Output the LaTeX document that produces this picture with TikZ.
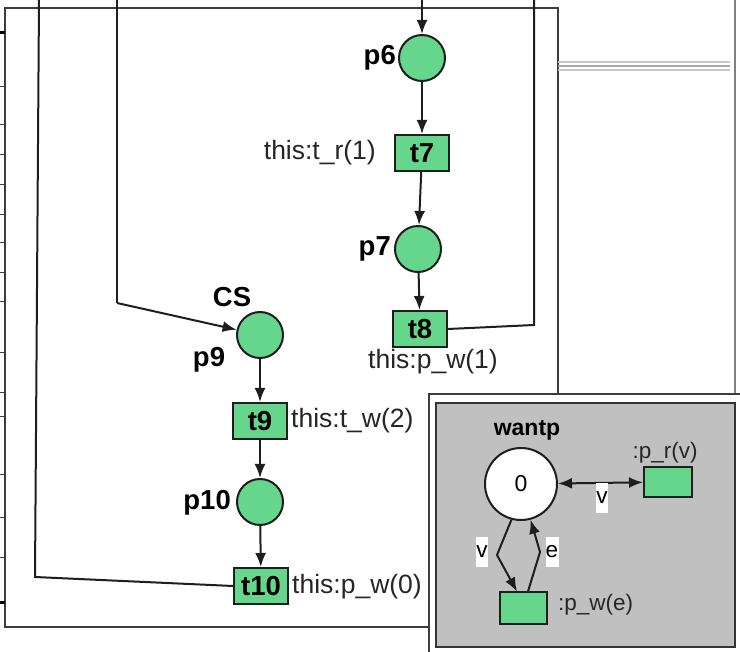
\documentclass[tikz,border=0pt]{standalone}
\usepackage{fontspec}
\setmainfont{Liberation Sans}
\usetikzlibrary{arrows.meta}
\definecolor{pgreen}{HTML}{66D68C}
\definecolor{edgec}{HTML}{1E1E1E}
\definecolor{framec}{HTML}{3C3C3C}
\definecolor{panelgray}{HTML}{C0C0C0}
\begin{document}
\begin{tikzpicture}[x=1pt,y=-1pt,
  place/.style={circle,draw=edgec,line width=2pt,fill=pgreen,minimum size=46pt,inner sep=0pt},
  trans/.style={rectangle,draw=edgec,line width=2pt,fill=pgreen,minimum width=54pt,minimum height=36pt,inner sep=0pt,font=\bfseries\fontsize{27.5}{30}\selectfont},
  ptrans/.style={rectangle,draw=edgec,line width=2pt,fill=pgreen,minimum width=48pt,minimum height=30pt,inner sep=0pt},
  boldlab/.style={font=\bfseries\fontsize{27.5}{30}\selectfont,inner sep=0pt},
  textlab/.style={font=\fontsize{26.5}{30}\selectfont,inner sep=0pt,text=black!85},
  poplab/.style={font=\fontsize{22.5}{26}\selectfont,inner sep=0pt,text=black!85},
  popbold/.style={font=\bfseries\fontsize{23}{26}\selectfont,inner sep=0pt},
  inscr/.style={font=\fontsize{22.5}{26}\selectfont,fill=white,inner sep=0pt,minimum width=11pt,minimum height=30pt},
  arrowc/.style={draw=edgec,line width=2pt,-{Latex[length=14pt,width=11pt]}},
  biarrow/.style={draw=edgec,line width=2pt,{Latex[length=14pt,width=11pt]}-{Latex[length=14pt,width=11pt]}},
  conn/.style={draw=edgec,line width=2pt},
  framel/.style={draw=framec,line width=1.6pt},
]
\useasboundingbox (0,0) rectangle (740,652);
\fill[white] (0,0) rectangle (740,652);

% main window frame
\draw[framel] (5,8) rectangle (558,627);
% left ruler ticks
\foreach \yy in {87,125,155,185,215,243,273,302,353,393,417,475,518,558}
  \draw[framel,line width=1pt] (0,\yy) -- (5,\yy);
\draw[draw=black,line width=3pt] (0,33) -- (5,33);
\draw[draw=black,line width=3pt] (0,603) -- (5,603);

% right window
\draw[draw=gray,line width=1.2pt] (735,0) -- (735,394);
\draw[draw=black!22,line width=1.5pt] (558,62) -- (730,62);
\draw[draw=black!35,line width=2.5pt] (558,66) -- (730,66);
\draw[draw=black!22,line width=1.5pt] (558,70) -- (730,70);

% places and transitions
\node[place] (p6) at (422,58) {};
\node[trans] (t7) at (422,153) {t7};
\node[place] (p7) at (418,249) {};
\node[trans] (t8) at (420,329) {t8};
\node[place] (p9) at (260,335) {};
\node[trans] (t9) at (260,421) {t9};
\node[place] (p10) at (260,502) {};
\node[trans] (t10) at (261,586) {t10};

% labels
\node[boldlab,anchor=east] (lp6) at (396,58) {p6};
\node[textlab,anchor=east] (lt7) at (376,153) {this:t\_r(1)};
\node[boldlab,anchor=east] (lp7) at (391,249) {p7};
\node[textlab] (lt8) at (433,362) {this:p\_w(1)};
\node[boldlab] (lcs) at (232,297) {CS};
\node[boldlab] (lp9) at (209,360) {p9};
\node[textlab,anchor=west] (lt9) at (291,421) {this:t\_w(2)};
\node[boldlab,anchor=east] (lp10) at (231,503) {p10};
\node[textlab,anchor=west] (lt10) at (292,587) {this:p\_w(0)};

% free ends
\coordinate (top6) at (422,0);
\coordinate (c8a) at (534,325);
\coordinate (c8b) at (534,0);
\coordinate (c9top) at (117,0);
\coordinate (c9a) at (117,303);
\coordinate (c10a) at (35,577);
\coordinate (c10b) at (39,0);

% connectors
\draw[arrowc] (top6) -- (p6);
\draw[arrowc] (p6) -- (t7);
\draw[arrowc] (t7) -- (p7);
\draw[arrowc] (p7) -- (t8);
\draw[conn] (t8.east) -- (c8a) -- (c8b);
\draw[conn] (c9top) -- (c9a);
\draw[arrowc] (c9a) -- (p9);
\draw[arrowc] (p9) -- (t9);
\draw[arrowc] (t9) -- (p10);
\draw[arrowc] (p10) -- (t10);
\draw[conn] (t10.west) -- (c10a) -- (c10b);

% popup panel
\draw[framel,fill=white] (429,394) rectangle (760,670);
\draw[draw=black!80,line width=1.8pt,fill=panelgray] (436,403) rectangle (735,647);

\node[circle,draw=edgec,line width=2pt,fill=white,minimum size=72pt,inner sep=0pt,font=\fontsize{23}{26}\selectfont] (wantp) at (521,484) {0};
\node[popbold] (lwantp) at (527,430) {wantp};
\node[ptrans] (pr) at (668,482) {};
\node[poplab] (lpr) at (665,453) {:p\_r(v)};
\node[ptrans,minimum width=47pt,minimum height=31pt] (pw) at (523,608) {};
\node[poplab,anchor=west] (lpw) at (558,605) {:p\_w(e)};

\coordinate (va) at (497,555);
\coordinate (ea) at (540,552);
\draw[biarrow] (wantp) -- (pr);
\draw[arrowc] (wantp.-105) -- (va) -- ([xshift=-6pt]pw.north);
\draw[arrowc] ([xshift=5pt]pw.north) -- (ea) -- (wantp.-75);

\node[inscr] (iv1) at (602,498) {v};
\node[inscr] (iv2) at (482,552) {v};
\node[inscr,minimum width=13pt] (ie) at (552,552) {e};
\end{tikzpicture}
\end{document}
